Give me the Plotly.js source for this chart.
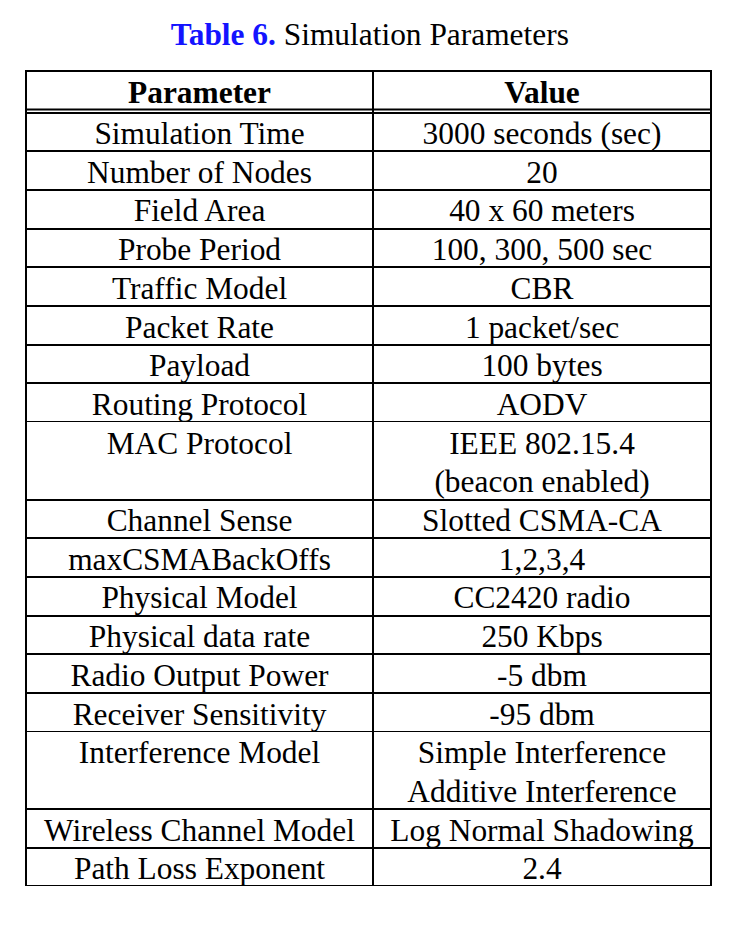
<!DOCTYPE html>
<html>
<head>
<meta charset="utf-8">
<script src="https://cdn.plot.ly/plotly-3.0.1.min.js"></script>
<style>html,body{margin:0;padding:0;background:#fff;}</style>
</head>
<body>
<div id="chart" style="width:747px;height:935px;"></div>
<script>
const headers = ["Parameter", "Value"];
const parameters = [
  "Simulation Time", "Number of Nodes", "Field Area", "Probe Period",
  "Traffic Model", "Packet Rate", "Payload", "Routing Protocol",
  "MAC Protocol", "Channel Sense", "maxCSMABackOffs", "Physical Model",
  "Physical data rate", "Radio Output Power", "Receiver Sensitivity",
  "Interference Model", "Wireless Channel Model", "Path Loss Exponent"
];
const values = [
  "3000 seconds (sec)", "20", "40 x 60 meters", "100, 300, 500 sec",
  "CBR", "1 packet/sec", "100 bytes", "AODV",
  "IEEE 802.15.4\n(beacon enabled)", "Slotted CSMA-CA", "1,2,3,4", "CC2420 radio",
  "250 Kbps", "-5 dbm", "-95 dbm",
  "Simple Interference\nAdditive Interference", "Log Normal Shadowing", "2.4"
];
const titleText = "<span style='color:#1414ff'><b>Table 6.</b></span> Simulation Parameters";

// Expand multi-line values into visual lines (one table line each)
const colParam = [], colValue = [], isCont = [];
parameters.forEach((p, i) => {
  const lines = values[i].split("\n");
  lines.forEach((ln, k) => {
    colParam.push(k === 0 ? p : "");
    colValue.push(ln);
    isCont.push(lines.length > 1);
  });
});
const lineColor = isCont.map(c => c ? "rgba(0,0,0,0)" : "#000000");

const FONT = "'Liberation Serif', 'Times New Roman', serif";
const FS = 31.4;
const HEADER_H = 41.5, ROW_H = 38.7;
const COLW = [347, 338];
const tableH = HEADER_H + colParam.length * ROW_H;

const trace = {
  type: "table",
  columnwidth: COLW,
  header: {
    values: headers,
    align: "center",
    height: HEADER_H,
    fill: {color: "#ffffff"},
    line: {color: "#000000", width: 2},
    font: {family: FONT, size: FS, color: "#000000", weight: 700}
  },
  cells: {
    values: [colParam, colValue],
    align: "center",
    height: ROW_H,
    fill: {color: "#ffffff"},
    line: {color: [lineColor, lineColor], width: 2},
    font: {family: FONT, size: FS, color: "#000000"}
  },
  domain: {x: [0, 1], y: [0, 1]}
};

// borders for merged (multi-line) rows + header double rule
const shapes = [{
  type: "line", xref: "paper", yref: "paper",
  x0: 0, x1: 1, y0: 1 - 38.5 / tableH, y1: 1 - 38.5 / tableH,
  line: {color: "#000000", width: 2}
}];
const xs = [0, COLW[0] / (COLW[0] + COLW[1]), 1];
let i = 0;
while (i < isCont.length) {
  if (isCont[i]) {
    let j = i;
    while (j < isCont.length && isCont[j] && (j === i || colParam[j] === "")) j++;
    const top = HEADER_H + i * ROW_H, bot = HEADER_H + j * ROW_H;
    xs.forEach(x => shapes.push({
      type: "line", xref: "paper", yref: "paper",
      x0: x, x1: x, y0: 1 - top / tableH, y1: 1 - bot / tableH,
      line: {color: "#000000", width: 2}
    }));
    i = j;
  } else i++;
}

const layout = {
  width: 747, height: 935,
  paper_bgcolor: "#ffffff",
  margin: {l: 26, r: 36, t: 71, b: 935 - 71 - tableH, pad: 0},
  title: {
    text: titleText,
    x: 0.495, xanchor: "center",
    y: 1 - 34 / 935, yanchor: "middle",
    font: {family: FONT, size: FS, color: "#000000"}
  },
  shapes: shapes
};

Plotly.newPlot("chart", [trace], layout, {displayModeBar: false, staticPlot: true});
</script>
</body>
</html>
